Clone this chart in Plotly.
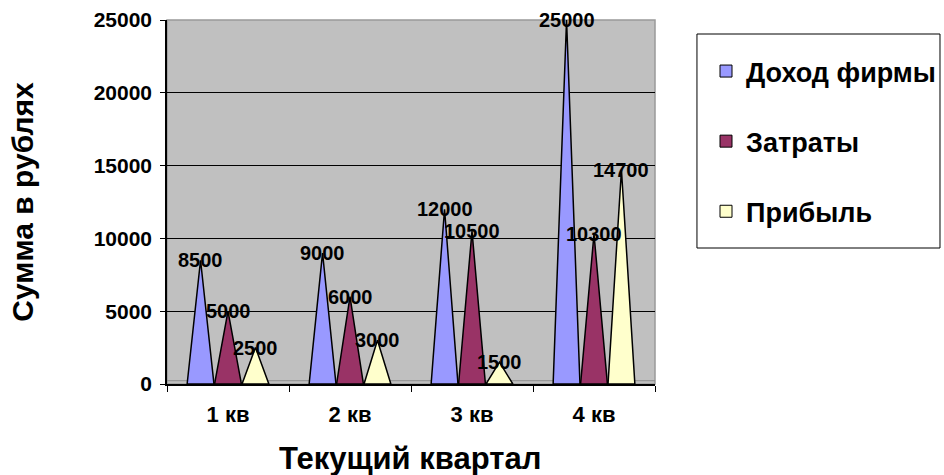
import plotly.graph_objects as go

categories = ["1 кв", "2 кв", "3 кв", "4 кв"]
series_names = ["Доход фирмы", "Затраты", "Прибыль"]
income = [8500, 9000, 12000, 25000]
costs = [5000, 6000, 10500, 10300]
profit = [2500, 3000, 1500, 14700]
colors = ["#9999FF", "#993366", "#FFFFCC"]
y_ticks = [0, 5000, 10000, 15000, 20000, 25000]

all_series = [income, costs, profit]
offsets = [-0.225, 0.0, 0.225]
half_w = 0.11

FONT = "Liberation Sans, Arial, sans-serif"

fig = go.Figure()

# cones (triangles) computed from data
for s, (name, vals, col, off) in enumerate(zip(series_names, all_series, colors, offsets)):
    xs, ys = [], []
    for j, v in enumerate(vals):
        c = j + 1 + off
        xs += [c - half_w, c, c + half_w, c - half_w, None]
        ys += [0, v, 0, 0, None]
    fig.add_trace(go.Scatter(
        x=xs, y=ys, mode="lines", fill="toself", fillcolor=col,
        line=dict(color="black", width=1.5), showlegend=False, hoverinfo="skip"))

# legend entries
for s, (name, col) in enumerate(zip(series_names, colors)):
    fig.add_trace(go.Bar(x=[None], y=[None], name=name, legendgroup=f"g{s}",
                         marker=dict(color=col, line=dict(color="black", width=1))))

# data labels
for s, (vals, off) in enumerate(zip(all_series, offsets)):
    for j, v in enumerate(vals):
        fig.add_annotation(x=j + 1 + off, y=v, text=str(v), showarrow=False,
                           yshift=0, xanchor="center", yanchor="middle",
                           font=dict(family=FONT, size=20, color="black", weight="bold"))

# axis titles
fig.add_annotation(xref="paper", yref="paper", x=(23 - 167) / 488, y=0.501, text="Сумма в рублях",
                   textangle=-90, showarrow=False, xanchor="center", yanchor="middle",
                   font=dict(family=FONT, size=30, color="black", weight="bold"))
fig.add_annotation(xref="paper", yref="paper", x=(410 - 167) / 488, y=(384 - 458) / 364,
                   text="Текущий квартал",
                   showarrow=False, xanchor="center", yanchor="middle",
                   font=dict(family=FONT, size=31, color="black", weight="bold"))

# plot area border (top/right light gray) and floor line
fig.add_shape(type="rect", xref="paper", yref="paper", x0=0, x1=1, y0=0, y1=1,
              line=dict(color="#999999", width=1.5), layer="below")
fig.add_shape(type="line", xref="paper", yref="paper", x0=0, x1=1, y0=0.009, y1=0.009,
              line=dict(color="#8c8c8c", width=1), layer="below")
# legend box
fig.add_shape(type="rect", xref="paper", yref="paper", x0=1.086, x1=1.584, y0=0.3736, y1=0.9615,
              line=dict(color="black", width=1), fillcolor="white", layer="below")

fig.update_layout(
    width=944, height=475,
    margin=dict(l=167, r=289, t=20, b=91, autoexpand=False),
    paper_bgcolor="white", plot_bgcolor="#C0C0C0",
    showlegend=True,
    legend=dict(x=(706 - 167) / 488, y=(384 - 47) / 364, xanchor="left", yanchor="top",
                bgcolor="rgba(0,0,0,0)", borderwidth=0,
                traceorder="grouped", tracegroupgap=32,
                font=dict(family=FONT, size=27, color="black", weight="bold")),
    xaxis=dict(range=[0.5, 4.5], tickvals=[1, 2, 3, 4], ticktext=categories,
               ticks="", showgrid=False, zeroline=False,
               showline=True, linecolor="black", linewidth=1.5,
               ticklabelstandoff=10,
               minor=dict(tickvals=[0.5, 1.5, 2.5, 3.5, 4.5], ticks="outside",
                          ticklen=6, tickcolor="black", showgrid=False),
               tickfont=dict(family=FONT, size=22, color="black", weight="bold")),
    yaxis=dict(range=[0, 25000], tickvals=y_ticks, tickformat="d",
               ticks="outside", ticklen=5,
               tickcolor="black", showgrid=True, gridcolor="black", gridwidth=1,
               zeroline=False, showline=True, linecolor="black", linewidth=1.5,
               ticklabelstandoff=4,
               tickfont=dict(family=FONT, size=21, color="black", weight="bold")),
)

fig.write_html("out.html", config={"displayModeBar": False, "responsive": False},
               post_script="document.body.style.margin='0';document.body.style.overflow='hidden';")
